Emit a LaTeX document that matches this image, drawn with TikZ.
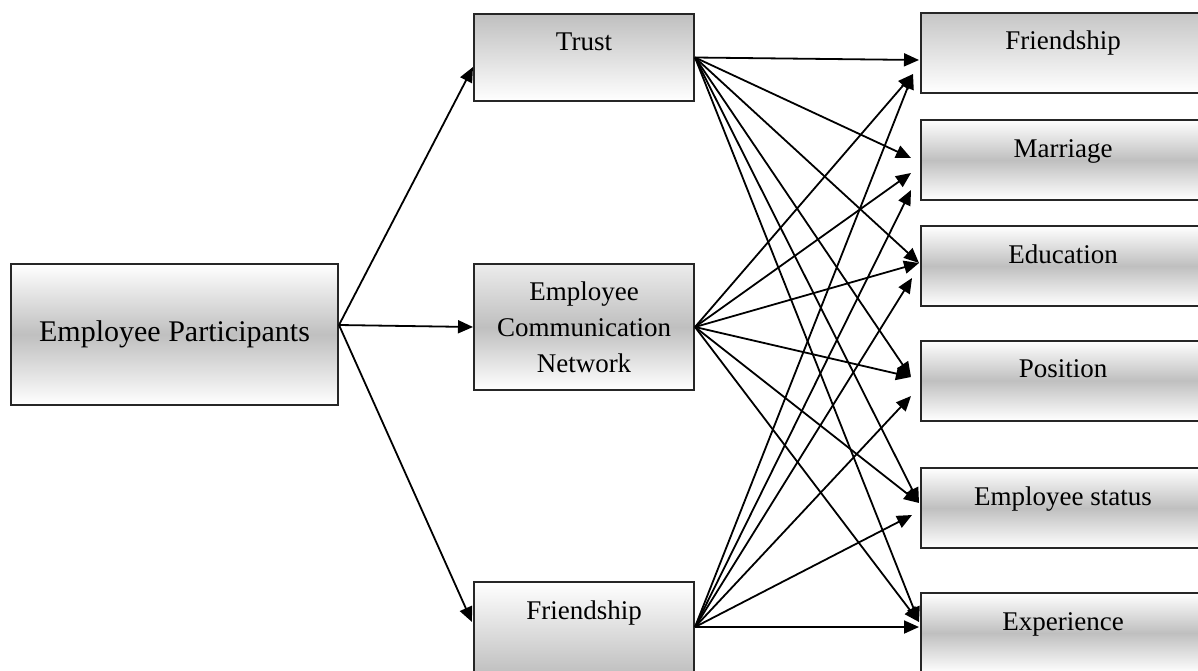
\documentclass[tikz,border=0pt]{standalone}
\usepackage{fontspec}
\setmainfont{Liberation Serif}
\usetikzlibrary{arrows.meta,calc}
\begin{document}
\begin{tikzpicture}[x=1pt,y=-1pt,
  box/.style={draw=black!85,line width=2pt,rectangle,inner sep=0pt,
    font=\fontsize{27}{36}\selectfont,align=center},
  midshade/.style={top color=white,bottom color=white,middle color=gray!50},
  topshade/.style={top color=gray!50,bottom color=white},
  botshade/.style={top color=white,bottom color=gray!50},
  toptext/.style={text height=20pt,text depth=34pt},
  boxL/.style={box,minimum width=220pt,minimum height=87pt},
  boxR/.style={box,midshade,minimum width=284pt,minimum height=80pt,
    text height=20pt,text depth=26pt},
  arr/.style={line width=1.8pt,-{Triangle[length=15pt,width=13pt]}},
]
\useasboundingbox (0,0) rectangle (1198,670);
\clip (0,0) rectangle (1198,670);

% left
\node[box,midshade,minimum width=327pt,minimum height=141pt,
  font=\fontsize{30}{36}\selectfont] (ep) at (174.5,334.5) {Employee Participants};

% middle
\node[boxL,topshade,toptext] (trust) at (584,57.5) {Trust};
\node[box,top color=gray!15,bottom color=white,middle color=gray!50,
  minimum width=220pt,minimum height=126pt] (ecn) at (584,327)
  {Employee\\Communication\\Network};
\node[boxL,botshade,minimum height=92pt,text height=20pt,text depth=38pt] (fr) at (584,628) {Friendship};

% right
\node[boxR,top color=gray!45,middle color=gray!20,bottom color=white] (rf) at (1063,52.5) {Friendship};
\node[boxR] (rm) at (1063,160) {Marriage};
\node[boxR] (re) at (1063,266) {Education};
\node[boxR] (rp) at (1063,380.5) {Position};
\node[boxR] (rs) at (1063,508) {Employee status};
\node[boxR] (rx) at (1063,633) {Experience};

% connector end points
\coordinate (ep-out) at ($(ep.east)+(0,-9.5)$);
\coordinate (trust-in) at ($(trust.west)+(0,9.5)$);
\coordinate (fr-in) at ($(fr.west)+(-1,-6)$);
\coordinate (fr-out) at ($(fr.east)+(0,-1)$);

\coordinate (rf-a) at ($(rf.west)+(-1,7.5)$);
\coordinate (rf-b) at ($(rf.west)+(-7,21.5)$);
\coordinate (rm-t) at ($(rm.west)+(-9,-2)$);
\coordinate (rm-e) at ($(rm.west)+(-9,13)$);
\coordinate (rm-f) at ($(rm.west)+(-9,30)$);
\coordinate (re-a) at ($(re.west)+(-1,-3)$);
\coordinate (re-f) at ($(re.west)+(-8,12)$);
\coordinate (rp-a) at ($(rp.west)+(-9,-3.5)$);
\coordinate (rp-f) at ($(rp.west)+(-9,15.5)$);
\coordinate (rs-a) at ($(rs.west)+(-1,-5)$);
\coordinate (rs-f) at ($(rs.west)+(-8,7)$);
\coordinate (rx-a) at ($(rx.west)+(-1,-11)$);
\coordinate (rx-f) at ($(rx.west)+(-1,-6)$);

% connectors
\draw[arr] (ep-out) -- (trust-in);
\draw[arr] (ep-out) -- (ecn.west);
\draw[arr] (ep-out) -- (fr-in);

\foreach \t in {rf-a,rm-t,re-a,rp-a,rs-a,rx-a}
  \draw[arr] (trust.east) -- (\t);
\foreach \t in {rf-b,rm-e,re-a,rp-a,rs-a,rx-a}
  \draw[arr] (ecn.east) -- (\t);
\foreach \t in {rf-b,rm-f,re-f,rp-f,rs-f,rx-f}
  \draw[arr] (fr-out) -- (\t);
\end{tikzpicture}
\end{document}
